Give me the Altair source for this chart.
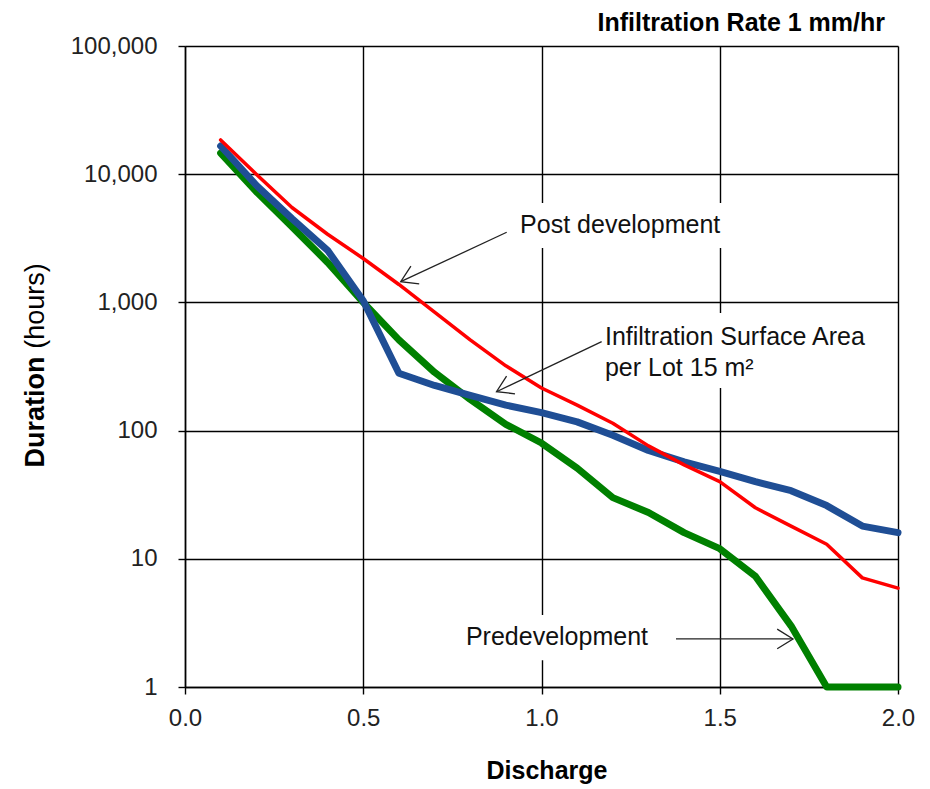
import altair as alt
import pandas as pd

# ---- data ----
discharge = [0.1, 0.2, 0.3, 0.4, 0.5, 0.6, 0.7, 0.8, 0.9, 1.0,
             1.1, 1.2, 1.3, 1.4, 1.5, 1.6, 1.7, 1.8, 1.9, 2.0]
post_dev = [18500, 10000, 5500, 3400, 2200, 1380, 840, 510, 320, 215,
            158, 114, 76, 54, 40, 25, 18, 13, 7.1, 5.9]
infiltration = [16600, 8200, 4500, 2550, 1030, 280, 225, 188, 158, 138,
                117, 92, 70, 57, 48, 40, 34, 26, 18, 16]
pre_dev = [14600, 7300, 3900, 2050, 1000, 510, 285, 175, 112, 80,
           51, 30, 23, 16, 12, 7.3, 3, 1, 1, 1]

x_ticks = [0.0, 0.5, 1.0, 1.5, 2.0]
y_ticks = [1, 10, 100, 1000, 10000, 100000]

series_names = ["Predevelopment", "Infiltration Surface Area per Lot 15 m²", "Post development"]
series_colors = ["#008000", "#1F4E95", "#FF0000"]
series_widths = [7, 7, 3.5]

# annotations (data coordinates)
note_text = ["Post development", "Infiltration Surface Area", "per Lot 15 m²", "Predevelopment"]
note_x = [0.94, 1.178, 1.178, 0.788]
note_y = [4017, 537, 308, 2.45]

box_x = [0.917, 1.158, 0.766]
box_x2 = [1.534, 1.961, 1.332]
box_y = [5960, 827, 3.64]
box_y2 = [2656, 215, 1.62]

arrow_x = [0.9024, 1.1688, 1.3773]
arrow_y = [3523, 493.6, 2.37]
arrow_x2 = [0.6051, 0.8738, 1.7055]
arrow_y2 = [1450, 201, 2.37]
arrow_angle = [155.0, 154.5, 0.0]

FONT = "Liberation Sans"

rows = []
for name, vals in zip(series_names, [pre_dev, infiltration, post_dev]):
    for xv, yv in zip(discharge, vals):
        rows.append({"discharge": xv, "duration": yv, "series": name})
lines_df = pd.DataFrame(rows)

notes_df = pd.DataFrame({"discharge": note_x, "duration": note_y, "label": note_text})
boxes_df = pd.DataFrame({"discharge": box_x, "discharge2": box_x2,
                         "duration": box_y, "duration2": box_y2})
arrows_df = pd.DataFrame({"discharge": arrow_x, "duration": arrow_y,
                          "discharge2": arrow_x2, "duration2": arrow_y2})
heads_df = pd.DataFrame({"discharge": arrow_x2, "duration": arrow_y2, "angle": arrow_angle})


def X():
    return alt.X("discharge:Q",
                 scale=alt.Scale(domain=[0, 2], nice=False, zero=False),
                 axis=alt.Axis(values=x_ticks, format=".1f", title=None, grid=True,
                               tickSize=7, labelPadding=12, labelFlush=False))


def Y():
    return alt.Y("duration:Q",
                 scale=alt.Scale(type="log", domain=[1, 100000], nice=False),
                 axis=alt.Axis(values=y_ticks, format=",", title=None, grid=True,
                               tickSize=7, labelPadding=21, labelFlush=False))


layers = []
for name, col, w in zip(series_names, series_colors, series_widths):
    layers.append(
        alt.Chart(lines_df).transform_filter(alt.datum.series == name)
        .mark_line(color=col, strokeWidth=w, strokeJoin="round", strokeCap="round")
        .encode(x=X(), y=Y())
    )

boxes = alt.Chart(boxes_df).mark_rect(color="white").encode(
    x=X(), x2="discharge2:Q", y=Y(), y2="duration2:Q")

arrows = alt.Chart(arrows_df).mark_rule(color="#222222", strokeWidth=1.3).encode(
    x=X(), x2="discharge2:Q", y=Y(), y2="duration2:Q")

heads = alt.Chart(heads_df).mark_point(
    shape="M-1,-0.62L0,0L-1,0.62", filled=False, stroke="#222222",
    strokeWidth=1.3, size=1000, opacity=1
).encode(x=X(), y=Y(), angle=alt.Angle("angle:Q", scale=None))

notes = alt.Chart(notes_df).mark_text(
    align="left", baseline="middle", font=FONT, fontSize=25, color="#111111"
).encode(x=X(), y=Y(), text="label:N")

ytitle_bold = alt.Chart(pd.DataFrame({"t": ["Duration"]})).mark_text(
    angle=270, align="center", baseline="middle", font=FONT, fontSize=27,
    fontWeight="bold", color="#000000"
).encode(text="t:N", x=alt.value(-149), y=alt.value(366))

ytitle_reg = alt.Chart(pd.DataFrame({"t": ["(hours)"]})).mark_text(
    angle=270, align="center", baseline="middle", font=FONT, fontSize=27,
    color="#000000"
).encode(text="t:N", x=alt.value(-149), y=alt.value(260))

xtitle = alt.Chart(pd.DataFrame({"t": ["Discharge"]})).mark_text(
    align="center", baseline="alphabetic", font=FONT, fontSize=25,
    fontWeight="bold", color="#000000"
).encode(text="t:N", x=alt.value(362), y=alt.value(733))

top_title = alt.Chart(pd.DataFrame({"t": ["Infiltration Rate 1 mm/hr"]})).mark_text(
    align="right", baseline="alphabetic", font=FONT, fontSize=25,
    fontWeight="bold", color="#000000"
).encode(text="t:N", x=alt.value(700), y=alt.value(-15.5))

chart = alt.layer(
    *layers, boxes, arrows, heads, notes,
    ytitle_bold, ytitle_reg, xtitle, top_title
).properties(
    width=713, height=641,
    padding={"left": 177, "top": 38, "right": 24, "bottom": 100},
    autosize=alt.AutoSizeParams(type="none"),
    background="white",
).configure_view(
    strokeWidth=0
).configure_axis(
    labelFont=FONT, labelFontSize=24, labelColor="#222222",
    domainColor="#000000", domainWidth=1.5,
    gridColor="#000000", gridWidth=1.4, gridOpacity=1,
    tickColor="#000000", tickWidth=1.4,
)

chart.save("out.html", embed_options={"renderer": "svg", "actions": False})
